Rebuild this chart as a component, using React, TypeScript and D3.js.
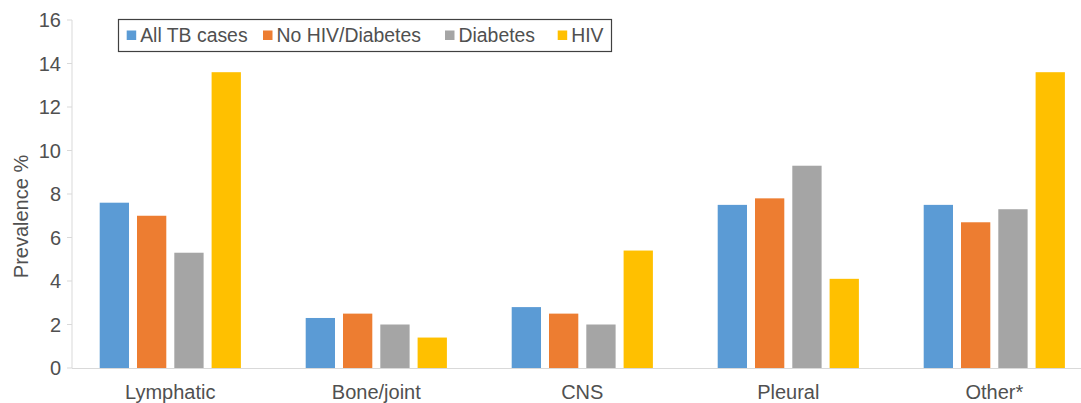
import React from "react";
import * as d3 from "d3";

const categories = ["Lymphatic", "Bone/joint", "CNS", "Pleural", "Other*"];
const seriesNames = ["All TB cases", "No HIV/Diabetes", "Diabetes", "HIV"];
const allTB = [7.6, 2.3, 2.8, 7.5, 7.5];
const noHivDiabetes = [7.0, 2.5, 2.5, 7.8, 6.7];
const diabetes = [5.3, 2.0, 2.0, 9.3, 7.3];
const hiv = [13.6, 1.4, 5.4, 4.1, 13.6];
const yTicks = [0, 2, 4, 6, 8, 10, 12, 14, 16];
const colors = ["#5b9bd5", "#ed7d31", "#a5a5a5", "#ffc000"];

const W = 1081;
const H = 403;
const FONT = "'Liberation Sans', Arial, sans-serif";
const TEXT = "#505050";

export default function App() {
  const series = [allTB, noHivDiabetes, diabetes, hiv];
  const y = d3.scaleLinear().domain([0, 16]).range([368, 20]);
  const x = d3.scaleBand<string>().domain(categories).range([67.3, 1097.3]).paddingInner(0).paddingOuter(0);
  const groupW = 141.2;
  const x1 = d3.scaleBand<number>().domain([0, 1, 2, 3]).range([0, groupW]).paddingInner(0.2145).paddingOuter(0);
  const groupOffset = (x.bandwidth() - groupW) / 2;

  const legendX = [126.7, 263, 445, 557.7];

  return (
    <svg width={W} height={H} style={{ position: "absolute", left: 0, top: 0, background: "#fff" }} fontFamily={FONT}>
      <rect x={0} y={0} width={W} height={H} fill="#fff" />
      {/* y axis */}
      <line x1={72} x2={72} y1={y(16)} y2={y(0)} stroke="#d9d9d9" strokeWidth={1} />
      {yTicks.map((t) => (
        <g key={t}>
          <line x1={67} x2={72} y1={y(t)} y2={y(t)} stroke="#d9d9d9" strokeWidth={1} />
          <text x={61} y={y(t)} dy="0.35em" textAnchor="end" fontSize={20} fill={TEXT}>
            {t}
          </text>
        </g>
      ))}
      <text
        transform={`translate(28, 216.5) rotate(-90)`}
        textAnchor="middle"
        fontSize={20}
        fill={TEXT}
      >
        Prevalence %
      </text>
      {/* bars */}
      {categories.map((c, ci) => (
        <g key={c} transform={`translate(${(x(c) as number) + groupOffset},0)`}>
          {series.map((s, si) => (
            <rect
              key={si}
              x={x1(si) as number}
              y={y(s[ci])}
              width={x1.bandwidth()}
              height={y(0) - y(s[ci])}
              fill={colors[si]}
            />
          ))}
        </g>
      ))}
      {/* x axis */}
      <line x1={72} x2={W} y1={y(0) + 0.5} y2={y(0) + 0.5} stroke="#d9d9d9" strokeWidth={1} />
      {categories.map((c) => (
        <text
          key={c}
          x={(x(c) as number) + x.bandwidth() / 2}
          y={399}
          textAnchor="middle"
          fontSize={20}
          fill={TEXT}
        >
          {c}
        </text>
      ))}
      {/* legend */}
      <rect x={118.5} y={19.5} width={493} height={32} fill="#fff" stroke="#404040" strokeWidth={1.2} />
      {seriesNames.map((n, i) => (
        <g key={n}>
          <rect x={legendX[i]} y={30.5} width={9.5} height={9.5} fill={colors[i]} />
          <text x={legendX[i] + 13.5} y={35.5} dy="0.35em" fontSize={19.4} fill={TEXT}>
            {n}
          </text>
        </g>
      ))}
    </svg>
  );
}
